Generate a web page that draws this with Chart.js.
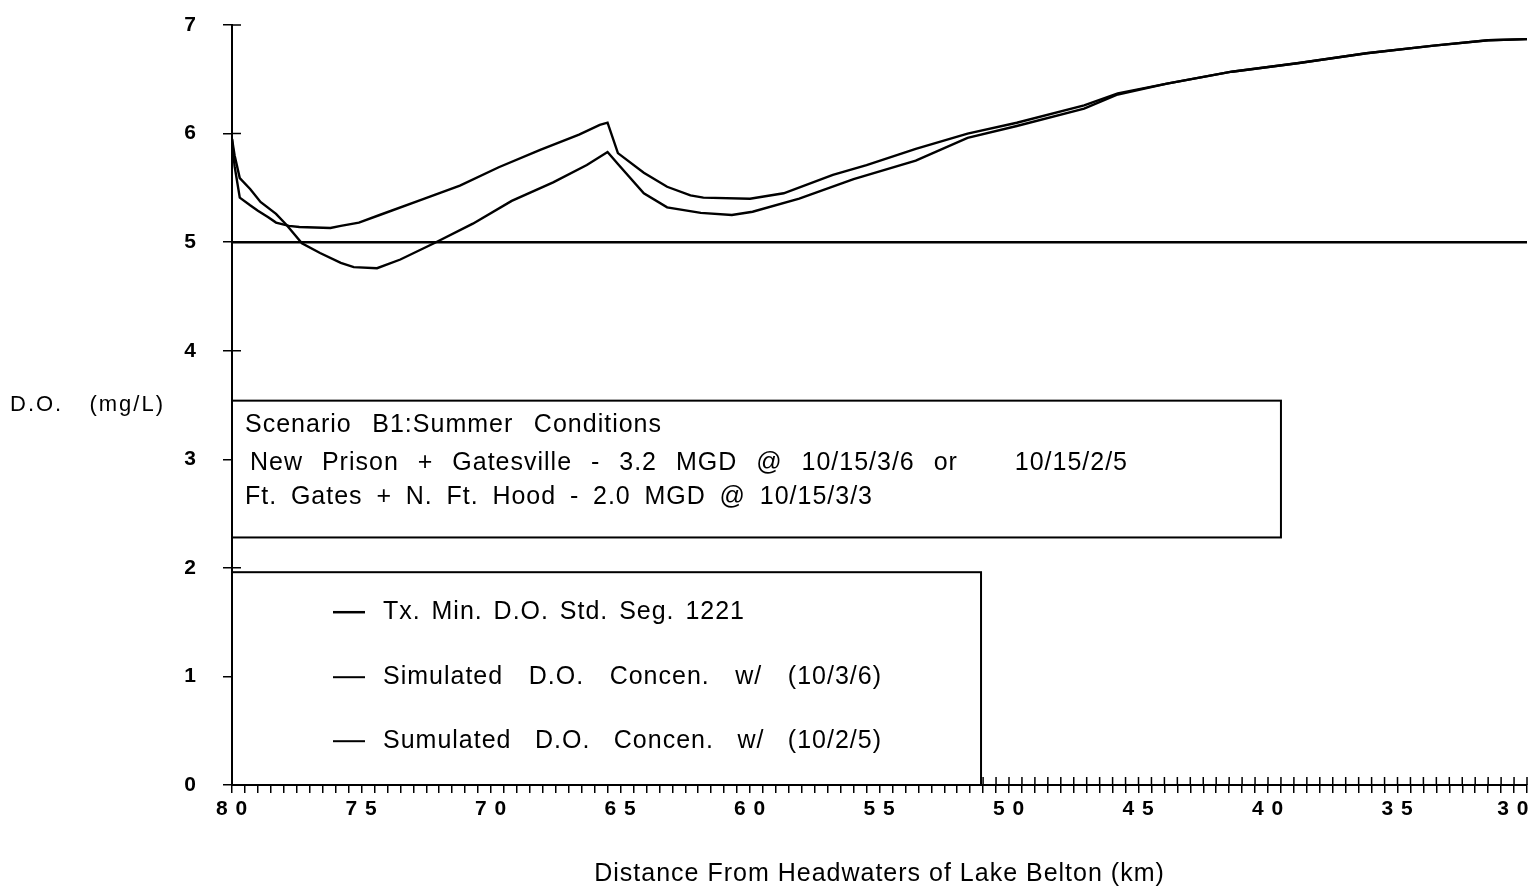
<!DOCTYPE html>
<html>
<head>
<meta charset="utf-8">
<title>D.O. Profile - Scenario B1</title>
<script src="https://cdn.jsdelivr.net/npm/chart.js@4.4.1/dist/chart.umd.min.js"></script>
<style>
  html, body { margin: 0; padding: 0; background: #fff; }
  #wrap { width: 1535px; height: 893px; }
</style>
</head>
<body>
<div id="wrap"><canvas id="doChart" width="1535" height="893"></canvas></div>
<script>
// River distance (km from headwaters of Lake Belton) and dissolved oxygen (mg/L)
const kmHigh = [80, 79.9, 79.7, 79.3, 78.9, 78.3, 77.9, 77.3, 76.6, 75.8, 75.3, 74.4, 73.5, 72.2, 70.7, 69.2,
    67.6, 66.3, 65.5, 65.1, 64.1, 63.2, 61.9, 60.7, 59.9, 58.1, 56.0, 53.6, 51.6, 49.7, 47.1, 45.8, 43.9, 41.4,
    38.8, 36.2, 33.6, 31.5, 30];
const doHigh = [5.95, 5.80, 5.59, 5.49, 5.37, 5.26, 5.16, 4.99, 4.90, 4.81, 4.77, 4.76, 4.84, 4.99, 5.17, 5.38,
    5.55, 5.71, 5.83, 5.72, 5.45, 5.32, 5.27, 5.25, 5.28, 5.40, 5.58, 5.75, 5.96, 6.07, 6.23, 6.36, 6.46, 6.57,
    6.65, 6.74, 6.81, 6.86, 6.87];

const kmLow = [80, 79.9, 79.7, 79.3, 79.0, 78.6, 78.3, 77.8, 77.4, 76.2, 75.8, 75.1, 74.3, 72.7, 71.2, 69.7,
    68.1, 66.6, 65.8, 65.5, 65.1, 64.1, 63.2, 62.3, 61.8, 60.0, 58.7, 56.8, 55.5, 53.6, 51.6, 49.7, 47.1, 45.8,
    43.9, 41.4, 38.8, 36.2, 33.6, 31.5, 30];
const doLow = [5.95, 5.70, 5.41, 5.34, 5.29, 5.23, 5.18, 5.15, 5.14, 5.13, 5.15, 5.18, 5.25, 5.39, 5.52, 5.69,
    5.85, 5.99, 6.08, 6.10, 5.82, 5.64, 5.51, 5.43, 5.41, 5.40, 5.45, 5.62, 5.71, 5.86, 6.00, 6.10, 6.26, 6.37,
    6.46, 6.57, 6.65, 6.74, 6.81, 6.86, 6.87];

const kmStd = [80, 30];
const doStd = [5, 5];

const seriesLabels = [
    'Tx. Min. D.O. Std. Seg. 1221',
    'Simulated D.O. Concen. w/ (10/3/6)',
    'Sumulated D.O. Concen. w/ (10/2/5)'
];

const scenarioLines = [
    'Scenario B1:Summer Conditions',
    'New Prison + Gatesville - 3.2 MGD @ 10/15/3/6 or   10/15/2/5',
    'Ft. Gates + N. Ft. Hood - 2.0 MGD @ 10/15/3/3'
];

// Box extents in axis units (km, mg/L)
const scenarioBox = { from: 80, to: 39.5, low: 2.28, high: 3.54 };
const legendBox = { from: 80, to: 51.08, low: 0, high: 1.96 };

const textFont = '25px "Liberation Sans", Arial, sans-serif';

function toPoints(xs, ys) {
    return xs.map((x, i) => ({ x: x, y: ys[i] }));
}

// Typewriter-style line: words spread evenly so the line spans `width` px
function fillSpread(ctx, text, x, y, width) {
    const words = text.split(' ');
    const used = words.reduce((sum, w) => sum + ctx.measureText(w).width, 0);
    const gap = words.length > 1 ? (width - used) / (words.length - 1) : 0;
    words.forEach(w => {
        if (w) ctx.fillText(w, x, y);
        x += ctx.measureText(w).width + gap;
    });
}

function drawBox(chart, box) {
    const ctx = chart.ctx;
    const xs = chart.scales.x, ys = chart.scales.y;
    const left = xs.getPixelForValue(box.from);
    const right = xs.getPixelForValue(box.to);
    const top = ys.getPixelForValue(box.high);
    const bottom = ys.getPixelForValue(box.low);
    ctx.fillStyle = '#fff';
    ctx.fillRect(left, top, right - left, bottom - top);
    ctx.lineWidth = 2;
    ctx.strokeStyle = '#000';
    ctx.strokeRect(left, top, right - left, bottom - top);
    return { left, right, top, bottom };
}

// Draws the inner tick halves, the note box, the legend box and the y title
const overlayPlugin = {
    id: 'overlay',
    beforeDraw(chart) {
        chart.ctx.letterSpacing = '1px';
    },
    afterDraw(chart) {
        const ctx = chart.ctx;
        const xs = chart.scales.x, ys = chart.scales.y;
        ctx.save();

        ctx.strokeStyle = '#000';
        ctx.lineWidth = 1.5;
        ctx.beginPath();
        xs.ticks.forEach(t => {
            const px = xs.getPixelForValue(t.value);
            ctx.moveTo(px, ys.bottom);
            ctx.lineTo(px, ys.bottom - 8);
        });
        ys.ticks.forEach(t => {
            const py = ys.getPixelForValue(t.value);
            ctx.moveTo(xs.left, py);
            ctx.lineTo(xs.left + 9, py);
        });
        ctx.stroke();

        ctx.textBaseline = 'middle';
        ctx.textAlign = 'left';
        ctx.letterSpacing = '1px';
        ctx.font = textFont;

        // scenario note
        const nb = drawBox(chart, scenarioBox);
        const noteRows = [24, 62, 96];
        const noteIndent = [13, 18, 13];
        const noteWidths = [417, 878, 628];
        ctx.fillStyle = '#000';
        scenarioLines.forEach((line, i) => {
            fillSpread(ctx, line, nb.left + noteIndent[i], nb.top + noteRows[i], noteWidths[i]);
        });

        // legend
        const lb = drawBox(chart, legendBox);
        const legendRows = [40, 105, 169];
        const legendWidths = [362, 499, 499];
        chart.data.datasets.forEach((ds, i) => {
            const rowY = lb.top + legendRows[i];
            ctx.strokeStyle = ds.borderColor;
            ctx.lineWidth = i === 0 ? 2.5 : 2;
            ctx.beginPath();
            ctx.moveTo(lb.left + 101, rowY);
            ctx.lineTo(lb.left + 133, rowY);
            ctx.stroke();
            ctx.fillStyle = '#000';
            fillSpread(ctx, ds.label, lb.left + 151, rowY, legendWidths[i]);
        });

        // horizontal y axis title
        ctx.letterSpacing = '2px';
        ctx.font = '22px "Liberation Sans", Arial, sans-serif';
        fillSpread(ctx, 'D.O. (mg/L)', 10, ys.getPixelForValue(3.5), 155);

        ctx.restore();
    }
};

const ctx = document.getElementById('doChart').getContext('2d');

new Chart(ctx, {
    type: 'line',
    data: {
        datasets: [
            {
                label: seriesLabels[0],
                data: toPoints(kmStd, doStd),
                borderColor: '#000',
                borderWidth: 2.5
            },
            {
                label: seriesLabels[1],
                data: toPoints(kmHigh, doHigh),
                borderColor: '#000',
                borderWidth: 2.4
            },
            {
                label: seriesLabels[2],
                data: toPoints(kmLow, doLow),
                borderColor: '#000',
                borderWidth: 2.4
            }
        ]
    },
    options: {
        responsive: false,
        animation: false,
        layout: { padding: { top: 25, right: 8, left: 0, bottom: 0 } },
        elements: {
            point: { radius: 0 },
            line: { tension: 0, fill: false }
        },
        plugins: {
            legend: { display: false },
            tooltip: { enabled: false }
        },
        scales: {
            x: {
                type: 'linear',
                min: 30,
                max: 80,
                reverse: true,
                border: { color: '#000', width: 2 },
                grid: { drawOnChartArea: false, drawTicks: true, tickLength: 8, color: '#000', lineWidth: 1.5 },
                ticks: {
                    stepSize: 0.5,
                    autoSkip: false,
                    maxRotation: 0,
                    padding: 4,
                    color: '#000',
                    font: { family: '"Liberation Sans", Arial, sans-serif', size: 21, weight: 'bold' },
                    callback: v => {
                        if (v % 5 !== 0) return '';
                        const text = String(v).split('').join(' ');
                        // trailing spaces keep the last label inside the canvas
                        return v === 30 ? text + '    ' : text;
                    }
                },
                title: {
                    display: true,
                    text: 'Distance From Headwaters of Lake Belton (km)',
                    color: '#000',
                    font: { family: '"Liberation Sans", Arial, sans-serif', size: 25 },
                    padding: { top: 4, bottom: 4 }
                },
                afterFit: s => {
                    s.height = 108;
                    s.paddingLeft = 0;
                    s.paddingRight = 0;
                }
            },
            y: {
                min: 0,
                max: 7,
                border: { color: '#000', width: 2 },
                grid: { drawOnChartArea: false, drawTicks: true, tickLength: 9, color: '#000', lineWidth: 1.5 },
                ticks: {
                    stepSize: 1,
                    padding: 26,
                    color: '#000',
                    font: { family: '"Liberation Sans", Arial, sans-serif', size: 21, weight: 'bold' }
                },
                afterFit: s => {
                    s.width = 232;
                    s.paddingTop = 0;
                    s.paddingBottom = 0;
                }
            }
        }
    },
    plugins: [overlayPlugin]
});
</script>
</body>
</html>
